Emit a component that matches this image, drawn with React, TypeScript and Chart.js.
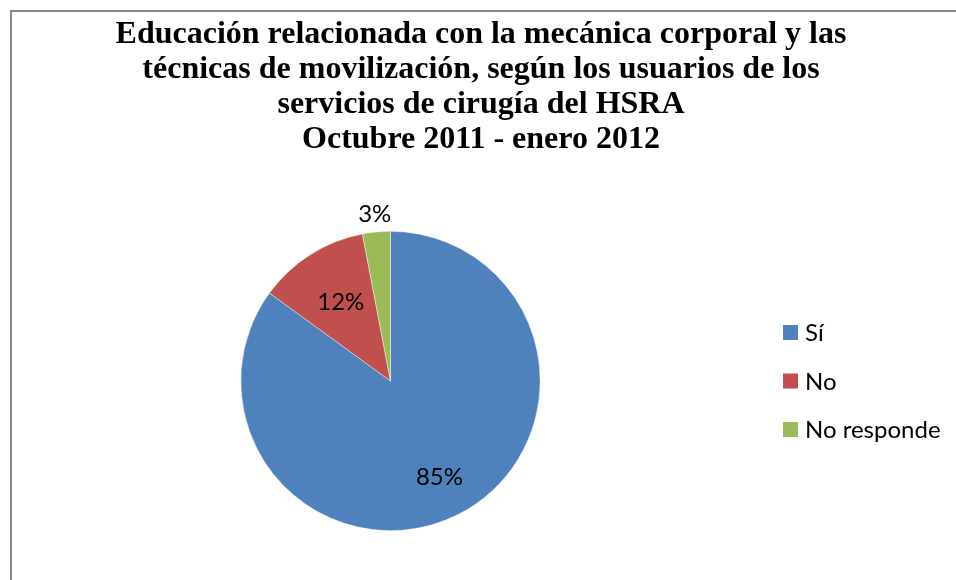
import React, { useEffect, useRef } from "react";
import { Chart, registerables } from "chart.js";

Chart.register(...registerables);

const TITLE_LINES = [
  "Educación relacionada con la mecánica corporal y las",
  "técnicas de movilización, según los usuarios de los",
  "servicios de cirugía del HSRA",
  "Octubre 2011 - enero 2012",
];
const CATEGORIES = ["Sí", "No", "No responde"];
const VALUES = [85, 12, 3];
const COLORS = ["#4F81BD", "#C0504D", "#9BBB59"];
const LABEL_RADIUS = [0.72, 0.62, 1.12];

const LABEL_FONT = "24px Lato, 'Open Sans', sans-serif";

const customDraw = {
  id: "customDraw",
  afterDraw(chart: any) {
    const ctx = chart.ctx as CanvasRenderingContext2D;
    ctx.save();
    // Title
    ctx.fillStyle = "#000";
    ctx.font = "bold 32px 'Liberation Serif', 'Times New Roman', serif";
    ctx.textAlign = "center";
    ctx.textBaseline = "alphabetic";
    const baseY = 42.5;
    const lh = 35.3;
    TITLE_LINES.forEach((t, i) => ctx.fillText(t, 481, baseY + i * lh));

    // Data labels
    const meta = chart.getDatasetMeta(0);
    const total = VALUES.reduce((a, b) => a + b, 0);
    ctx.font = LABEL_FONT;
    ctx.textBaseline = "middle";
    meta.data.forEach((arc: any, i: number) => {
      const p = arc.getProps(["x", "y", "startAngle", "endAngle", "outerRadius"], true);
      const mid = (p.startAngle + p.endAngle) / 2;
      const r = p.outerRadius * LABEL_RADIUS[i];
      const x = p.x + Math.cos(mid) * r;
      const y = p.y + Math.sin(mid) * r;
      const pct = Math.round((VALUES[i] / total) * 100) + "%";
      ctx.fillText(pct, x, y);
    });

    // Legend
    ctx.textAlign = "left";
    const legX = 783;
    const legY0 = 332.5;
    const legStep = 48.5;
    CATEGORIES.forEach((c, i) => {
      const cy = legY0 + i * legStep;
      ctx.fillStyle = COLORS[i];
      ctx.fillRect(legX, cy - 7.5, 15, 15);
      ctx.fillStyle = "#000";
      ctx.fillText(c, legX + 22, cy + 1);
    });
    ctx.restore();
  },
};

export default function App() {
  const ref = useRef<HTMLCanvasElement>(null);
  useEffect(() => {
    if (!ref.current) return;
    const chart = new Chart(ref.current, {
      type: "pie",
      data: {
        labels: CATEGORIES,
        datasets: [
          {
            data: VALUES,
            backgroundColor: COLORS,
            borderColor: "rgba(255,255,255,0.6)",
            borderWidth: 0.7,
          },
        ],
      },
      options: {
        responsive: false,
        animation: false,
        layout: { padding: { left: 240, right: 415, top: 231, bottom: 49 } },
        plugins: {
          legend: { display: false },
          title: { display: false },
          tooltip: { enabled: false },
        },
      },
      plugins: [customDraw],
    });
    return () => chart.destroy();
  }, []);
  return (
    <div style={{ position: "fixed", left: 0, top: 0, width: 956, height: 580, background: "#fff", overflow: "hidden" }}>
      <canvas ref={ref} width={956} height={580} style={{ position: "absolute", left: 0, top: 0 }} />
      <div
        style={{
          position: "absolute",
          left: 10,
          top: 10,
          width: 1000,
          height: 1000,
          borderLeft: "2px solid #898989",
          borderTop: "2px solid #898989",
          pointerEvents: "none",
        }}
      />
    </div>
  );
}
